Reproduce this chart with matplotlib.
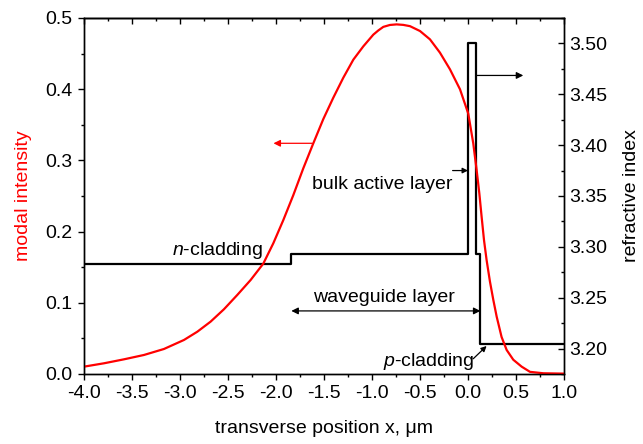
import matplotlib
matplotlib.use('Agg')
import matplotlib.pyplot as plt
from matplotlib.ticker import MultipleLocator, FormatStrFormatter

plt.rcParams['font.family'] = ['Liberation Sans', 'DejaVu Sans']
plt.rcParams['mathtext.fontset'] = 'custom'
plt.rcParams['mathtext.rm'] = 'Liberation Sans'
plt.rcParams['mathtext.it'] = 'Liberation Sans:italic'
plt.rcParams['font.size'] = 14

# modal intensity
x_mode = [-4.0, -3.792, -3.583, -3.375, -3.167, -2.958, -2.819, -2.681, -2.542, -2.403,
          -2.264, -2.132, -2.028, -1.924, -1.82, -1.715, -1.611, -1.507, -1.403, -1.299,
          -1.194, -1.09, -0.986, -0.934, -0.882, -0.813, -0.743, -0.674, -0.604, -0.5,
          -0.396, -0.292, -0.188, -0.083, 0.003, 0.055, 0.09, 0.118, 0.142, 0.167,
          0.194, 0.229, 0.264, 0.299, 0.35, 0.403, 0.472, 0.559, 0.646, 0.785, 1.0]
intensity = [0.0103, 0.015, 0.0206, 0.0267, 0.0351, 0.0478, 0.0594, 0.0735, 0.0909, 0.111,
             0.132, 0.155, 0.1835, 0.216, 0.251, 0.289, 0.324, 0.358, 0.388, 0.416,
             0.4415, 0.4602, 0.4766, 0.4825, 0.4875, 0.4902, 0.491, 0.4903, 0.4885, 0.4817,
             0.470, 0.4513, 0.428, 0.3998, 0.3657, 0.324, 0.2865, 0.254, 0.221, 0.188,
             0.160, 0.1297, 0.104, 0.0805, 0.052, 0.0337, 0.020, 0.0103, 0.003, 0.001, 0.0005]

# refractive index profile (layer edges and index of each layer)
layer_edges = [-4.0, -1.84, 0.0, 0.08, 0.13, 1.0]
layer_index = [3.283, 3.293, 3.50, 3.293, 3.204]

fig = plt.figure(figsize=(6.43, 4.44), dpi=100)
ax = fig.add_axes([0.1306, 0.1577, 0.7465, 0.8018])
ax2 = ax.twinx()
ax.set_zorder(ax2.get_zorder() + 1)
ax.patch.set_visible(False)

# index profile on right axis
ax2.step(layer_edges, layer_index + [layer_index[-1]], where='post', color='black', lw=1.6)
ax2.set_ylim(3.175, 3.525)
ax2.yaxis.set_major_locator(MultipleLocator(0.05))
ax2.yaxis.set_minor_locator(MultipleLocator(0.025))
ax2.yaxis.set_major_formatter(FormatStrFormatter('%.2f'))
ax2.tick_params(axis='y', which='both', direction='in', labelsize=14)
ax2.tick_params(axis='y', which='major', length=4.5, width=1)
ax2.tick_params(axis='y', which='minor', length=2.5, width=1)
ax2.set_ylabel('refractive index', fontsize=14)
ax2.yaxis.set_label_coords(1.124, 0.5)

# modal intensity on left axis
ax.plot(x_mode, intensity, color='red', lw=1.6, solid_joinstyle='round')
ax.set_xlim(-4.0, 1.0)
ax.set_ylim(0, 0.5)
ax.xaxis.set_major_locator(MultipleLocator(0.5))
ax.xaxis.set_minor_locator(MultipleLocator(0.25))
ax.yaxis.set_major_locator(MultipleLocator(0.1))
ax.yaxis.set_minor_locator(MultipleLocator(0.05))
ax.xaxis.set_major_formatter(FormatStrFormatter('%.1f'))
ax.yaxis.set_major_formatter(FormatStrFormatter('%.1f'))
ax.tick_params(which='both', direction='out', top=False, right=False, labelsize=14, width=1)
ax.tick_params(which='major', length=4.5)
ax.tick_params(which='minor', length=2.5)
ax.set_ylabel('modal intensity', color='red', fontsize=14)
ax.yaxis.set_label_coords(-0.108, 0.5)
ax.set_xlabel('transverse position x, \u03bcm', fontsize=14)
ax.xaxis.set_label_coords(0.5, -0.129)

# top axis ticks pointing inward
top = ax.secondary_xaxis('top')
top.xaxis.set_major_locator(MultipleLocator(0.5))
top.xaxis.set_minor_locator(MultipleLocator(0.25))
top.tick_params(which='both', direction='in', labeltop=False, width=1)
top.tick_params(which='major', length=4.5)
top.tick_params(which='minor', length=2.5)

for a in (ax, ax2):
    for s in a.spines.values():
        s.set_linewidth(1.0)
top.spines['top'].set_linewidth(1.0)

# arrows and labels
ax.annotate('', xy=(-2.055, 0.324), xytext=(-1.594, 0.324),
            arrowprops=dict(arrowstyle='-|>', color='red', lw=0.9, mutation_scale=10))
ax2.annotate('', xy=(0.576, 3.4685), xytext=(0.08, 3.4685),
             arrowprops=dict(arrowstyle='-|>', color='black', lw=0.9, mutation_scale=10,
                             shrinkA=0, shrinkB=0))
ax2.annotate('', xy=(0.0, 3.375), xytext=(-0.16, 3.375),
             arrowprops=dict(arrowstyle='-|>', color='black', lw=0.9, mutation_scale=8,
                             shrinkA=0, shrinkB=0))
ax2.text(-0.89, 3.3613, 'bulk active layer', ha='center', va='center', fontsize=14)
ax2.annotate('', xy=(-1.84, 3.237), xytext=(0.13, 3.237),
             arrowprops=dict(arrowstyle='<|-|>', color='black', lw=0.9, mutation_scale=10,
                             shrinkA=0, shrinkB=0))
ax2.text(-0.88, 3.2504, 'waveguide layer', ha='center', va='center', fontsize=14)
ax2.text(-2.615, 3.2967, r'$\it{n}$-cladding', ha='center', va='center', fontsize=14)
ax2.text(-0.406, 3.1877, r'$\it{p}$-cladding', ha='center', va='center', fontsize=14)
ax2.annotate('', xy=(0.194, 3.2025), xytext=(0.055, 3.190),
             arrowprops=dict(arrowstyle='-|>', color='black', lw=0.9, mutation_scale=8,
                             shrinkA=0, shrinkB=0))

fig.savefig('out.png', dpi=100)
